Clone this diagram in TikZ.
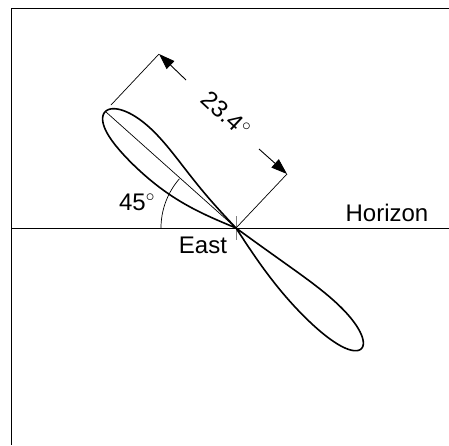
\documentclass[tikz,border=0pt]{standalone}
\usepackage{fontspec}
\setmainfont{Liberation Sans}
\usetikzlibrary{arrows.meta}
\begin{document}
\begin{tikzpicture}[x=1pt,y=-1pt,
  thinline/.style={line width=0.9pt,black},
  lobeline/.style={line width=1.6pt,black},
  dimarrow/.style={line width=0.9pt,-{Triangle[length=16pt,width=11pt]}},
  lbl/.style={font=\fontsize{24}{28}\selectfont,inner sep=0pt}]
\useasboundingbox (0,0) rectangle (449,445);
% frame and horizon
\coordinate (tl) at (11,8);
\coordinate (tr) at (449,8);
\coordinate (bl) at (11,445);
\coordinate (hl) at (11,228);
\coordinate (hr) at (449,228);
\coordinate (east) at (236,228);
\draw[thinline] (tr) -- (tl) -- (bl);
\draw[thinline] (hl) -- (hr);
\draw[line width=0.8pt,gray] (236,216) -- (236,240);
% upper lobe
\draw[lobeline] plot[domain=0:180,samples=120,smooth]
  ({236 + 175*sin(\x)*(-0.749) + (19*sin(2*\x) - 11*abs(sin(2*\x))*cos(\x)^6)*(0.663)},
   {228 + 175*sin(\x)*(-0.663) + (19*sin(2*\x) - 11*abs(sin(2*\x))*cos(\x)^6)*(-0.749)});
% lower lobe
\draw[lobeline] plot[domain=0:180,samples=120,smooth]
  ({236 + 174*sin(\x)*(0.721) + (16*sin(2*\x) - 4*abs(sin(2*\x))*cos(\x)^6)*(0.693)},
   {228 + 174*sin(\x)*(0.693) + (16*sin(2*\x) - 4*abs(sin(2*\x))*cos(\x)^6)*(-0.721)});
% axis line
\coordinate (tip) at (106,112);
\draw[line width=0.7pt] (tip) -- (east);
% 45 degree arc
\draw[line width=0.7pt] plot[domain=180:221,samples=30,smooth]
  ({236+75*cos(\x)},{228+75*sin(\x)});
% dimension
\coordinate (x1) at (111,105);
\coordinate (e1) at (159,54);
\coordinate (e2) at (287,174);
\coordinate (a1) at (186,80);
\coordinate (a2) at (259,149);
\draw[line width=0.7pt] (x1) -- (e1);
\draw[line width=0.7pt] (east) -- (e2);
\draw[dimarrow] (a1) -- (e1);
\draw[dimarrow] (a2) -- (e2);
% labels
\node[lbl,rotate=-43] (dim) at (226,114) {23.4$^{\circ}$};
\node[lbl] (ang) at (137,202) {45$^{\circ}$};
\node[lbl] (eastlbl) at (203,245) {East};
\node[lbl] (hor) at (387,213) {Horizon};
\end{tikzpicture}
\end{document}
